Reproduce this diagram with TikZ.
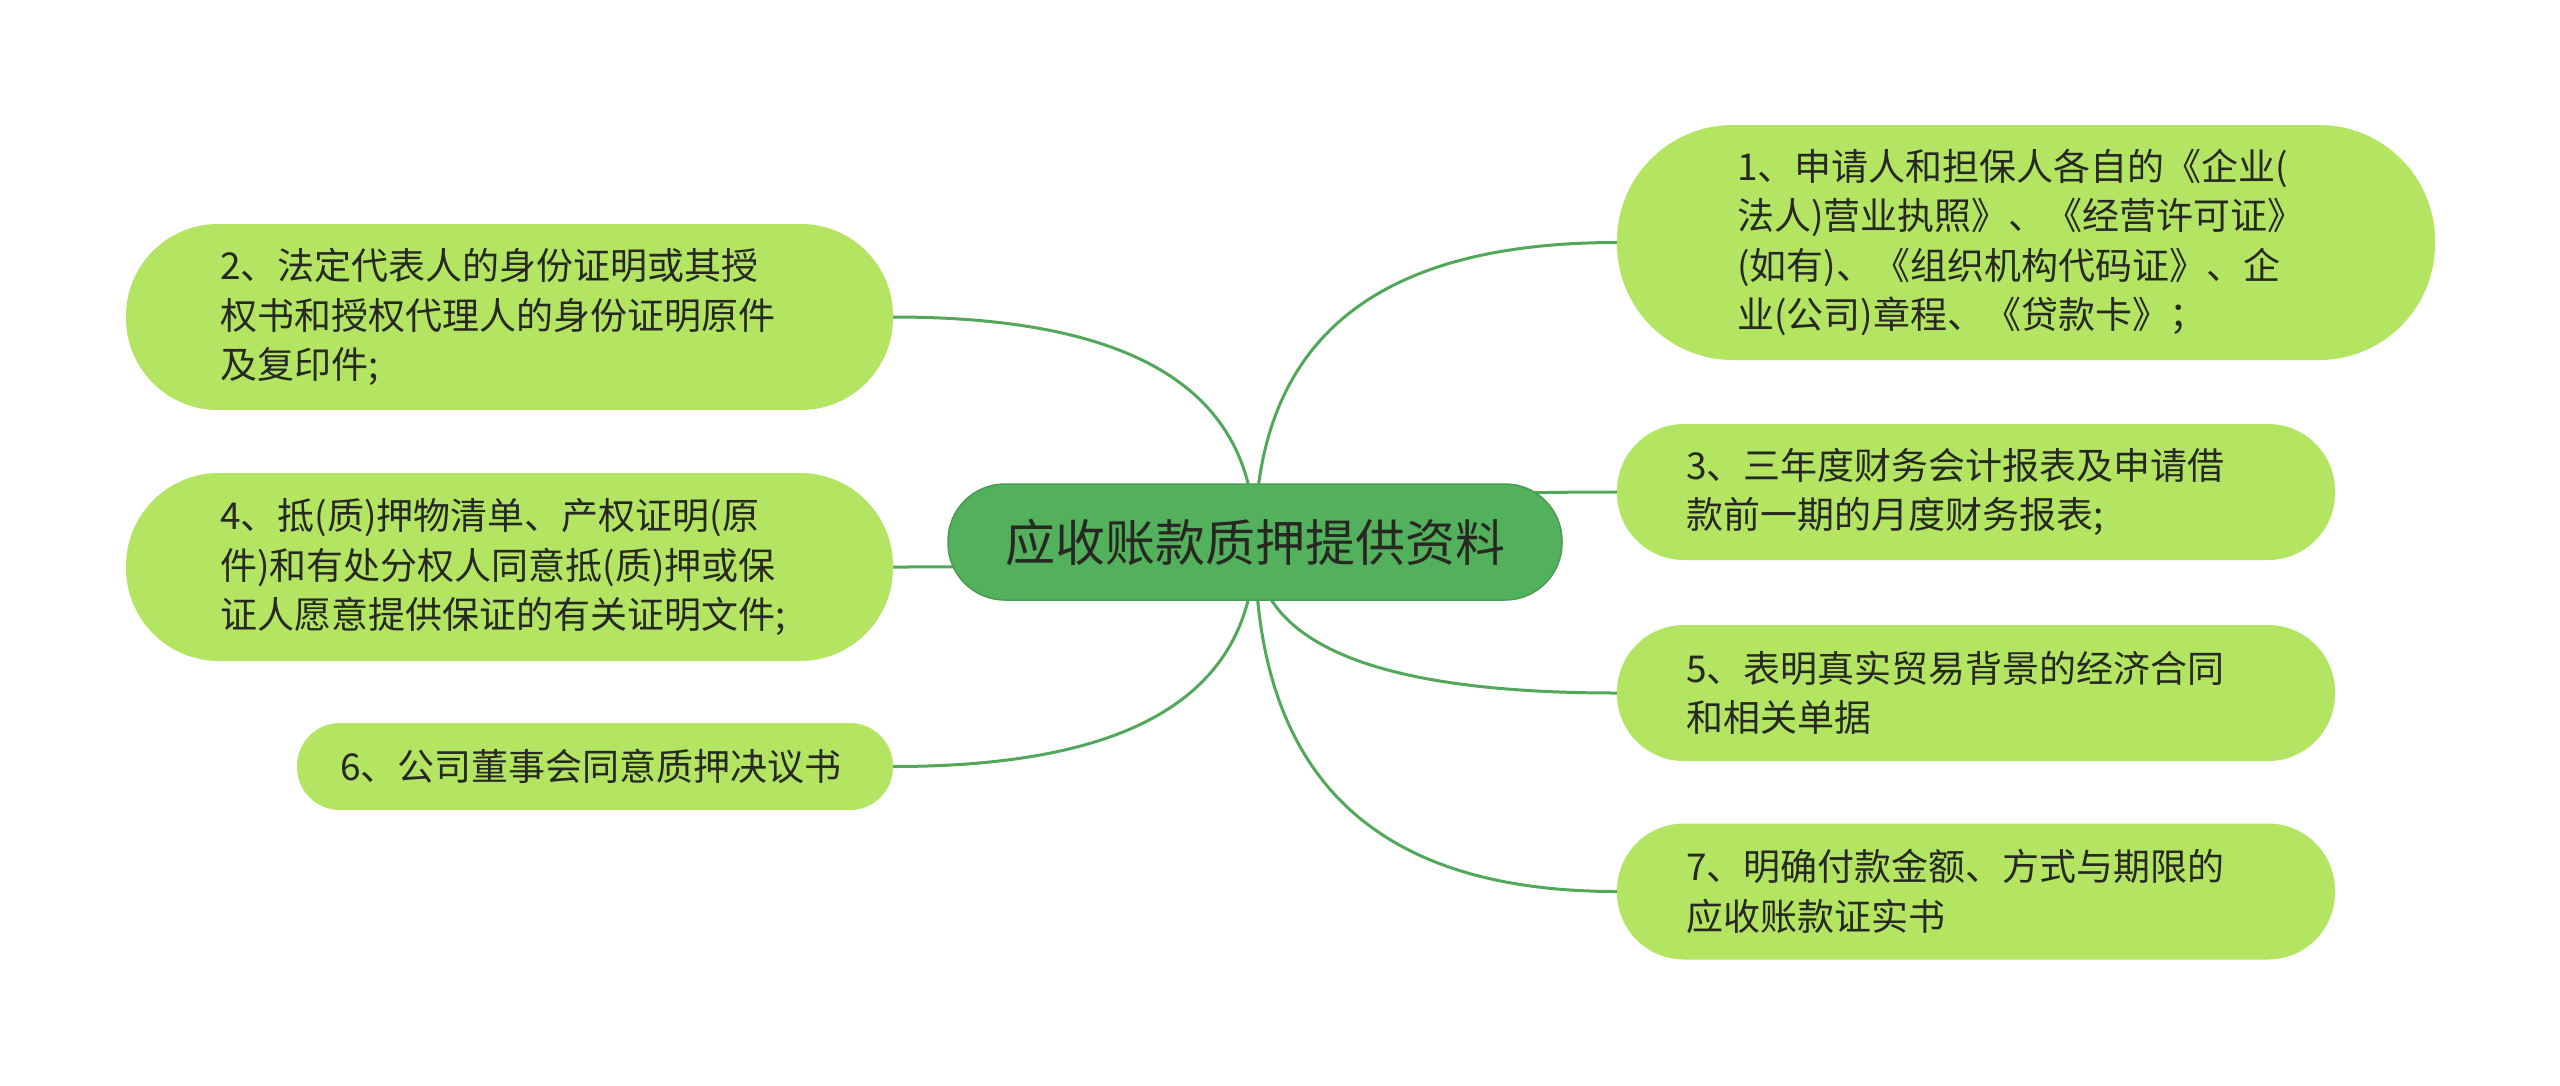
\documentclass[tikz,border=0pt]{standalone}
\usepackage{fontspec}
\setmainfont{Noto Sans CJK SC}
\usetikzlibrary{calc,backgrounds}
\definecolor{rootfill}{RGB}{83,176,92}
\definecolor{rootdraw}{RGB}{72,158,80}
\definecolor{leaffill}{RGB}{179,229,99}
\definecolor{linkcol}{RGB}{82,168,90}
\definecolor{txt}{RGB}{40,40,34}
\newcommand\mmlink[1]{\draw[link] (c.center) .. controls ($(c.center)!0.74!(c.center|-#1)$) and ($(c.center|-#1)!0.4!(#1)$) .. (#1);}
\begin{document}
\begin{tikzpicture}[x=1pt,y=-1pt,
  leaf/.style={fill=leaffill, draw=none, inner sep=0pt, align=left, text=txt,
    font=\fontsize{37}{49.5}\selectfont},
  root/.style={fill=rootfill, draw=rootdraw, line width=1.5pt, inner sep=0pt, text=txt,
    font=\fontsize{50}{60}\selectfont, minimum width=614pt, minimum height=116pt, rounded corners=57pt},
  link/.style={draw=linkcol, line width=3pt}]
\begin{pgfonlayer}{background}
\fill[white] (0,0) rectangle (2560,1085);
\end{pgfonlayer}
\useasboundingbox (0,0) rectangle (2560,1085);

\node[root] (c) at (1255,542) {应收账款质押提供资料};

\node[leaf, minimum width=818pt, minimum height=235pt, rounded corners=116pt, text width=578pt] (n1) at (2026,242.5)
  {1、申请人和担保人各自的《企业(\\法人)营业执照》、《经营许可证》\\(如有)、《组织机构代码证》、企\\业(公司)章程、《贷款卡》；};
\node[leaf, minimum width=718pt, minimum height=136pt, rounded corners=67pt, text width=580pt] (n3) at (1976,492)
  {3、三年度财务会计报表及申请借\\款前一期的月度财务报表;};
\node[leaf, minimum width=718pt, minimum height=136pt, rounded corners=67pt, text width=580pt] (n5) at (1976,693)
  {5、表明真实贸易背景的经济合同\\和相关单据};
\node[leaf, minimum width=718pt, minimum height=136pt, rounded corners=67pt, text width=580pt] (n7) at (1976,891.5)
  {7、明确付款金额、方式与期限的\\应收账款证实书};

\node[leaf, minimum width=767pt, minimum height=186pt, rounded corners=92pt, text width=579pt] (n2) at (509.5,317)
  {2、法定代表人的身份证明或其授\\权书和授权代理人的身份证明原件\\及复印件;};
\node[leaf, minimum width=767pt, minimum height=188pt, rounded corners=93pt, text width=579pt] (n4) at (509.5,567)
  {4、抵(质)押物清单、产权证明(原\\件)和有处分权人同意抵(质)押或保\\证人愿意提供保证的有关证明文件;};
\node[leaf, minimum width=596pt, minimum height=87pt, rounded corners=43pt, text width=510pt] (n6) at (595,766.5)
  {6、公司董事会同意质押决议书};

\begin{pgfonlayer}{background}
\mmlink{n1.west}
\mmlink{n3.west}
\mmlink{n5.west}
\mmlink{n7.west}
\mmlink{n2.east}
\mmlink{n4.east}
\mmlink{n6.east}
\end{pgfonlayer}
\end{tikzpicture}
\end{document}
